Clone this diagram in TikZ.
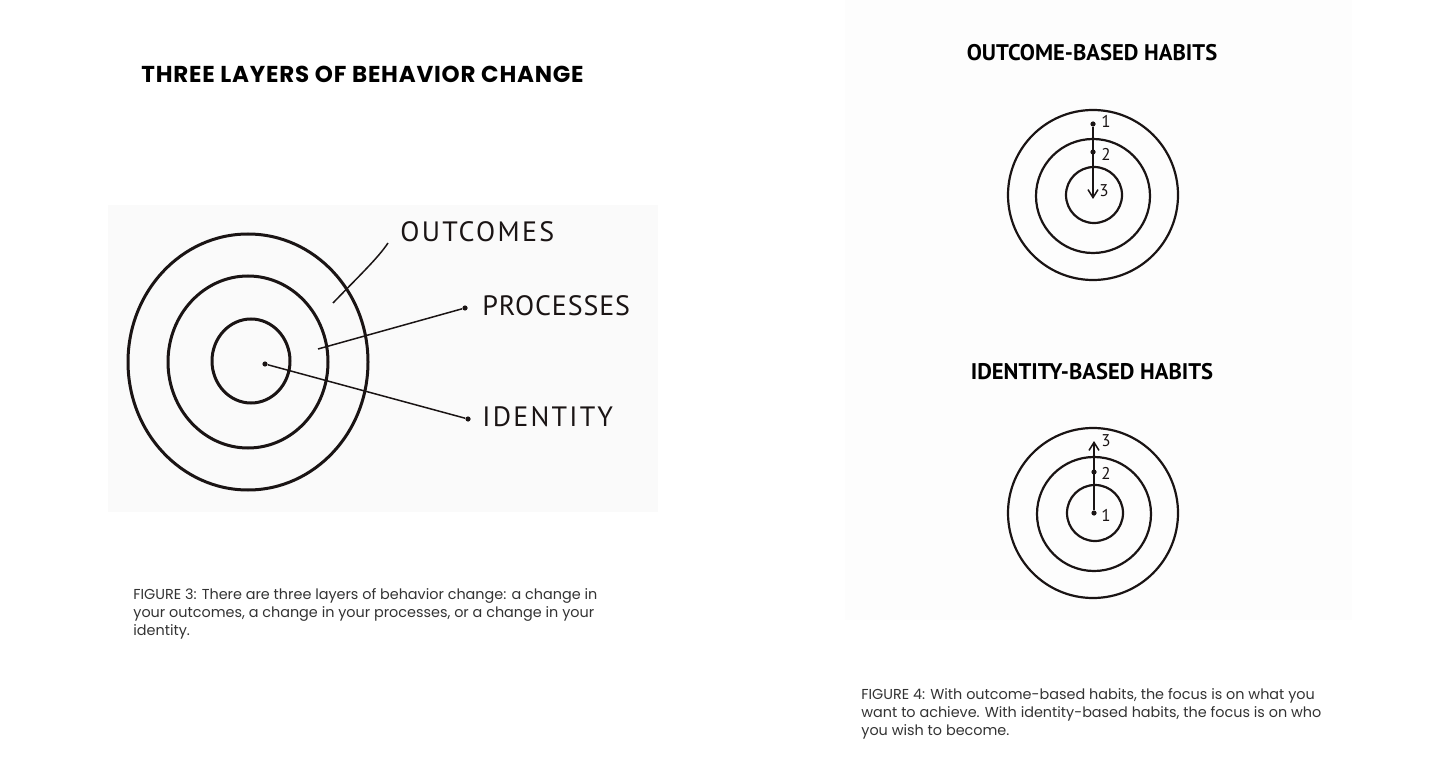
\documentclass[tikz,border=0pt]{standalone}
\usepackage{fontspec}
\setmainfont{Poppins}
\newfontfamily\titlefont{Poppins}[LetterSpace=3.4]
\newfontfamily\headfont{PT Sans}
\newfontfamily\handfont{PT Sans}[LetterSpace=8]
\newfontfamily\handfontnarrow{PT Sans}[LetterSpace=3]
\newfontfamily\numfont{PT Sans}
\usetikzlibrary{shapes.geometric,arrows.meta}
\definecolor{ink}{HTML}{1A1414}
\definecolor{captext}{HTML}{333333}
\tikzset{
  ring/.style={ellipse, draw=ink, inner sep=0pt},
  bigring/.style={ring, line width=1.5pt},
  smallring/.style={ring, line width=1.1pt},
  leader/.style={draw=ink, line width=0.75pt},
  dotmark/.style={circle, fill=ink, inner sep=0pt, minimum size=2.6pt},
  handlabel/.style={font=\handfont\fontsize{14}{14}\selectfont, text=ink, anchor=west, inner sep=0pt},
  handlabelnarrow/.style={font=\handfontnarrow\fontsize{14}{14}\selectfont, text=ink, anchor=west, inner sep=0pt},
  numlabel/.style={font=\numfont\fontsize{8.5}{8.5}\selectfont, text=ink, anchor=west, inner sep=0pt},
  heading/.style={font=\headfont\bfseries\fontsize{11.3}{13}\selectfont, inner sep=0pt},
  titletext/.style={font=\titlefont\bfseries\fontsize{11.5}{13}\selectfont, inner sep=0pt, anchor=base west},
  captiontext/.style={font=\fontsize{7.2}{8.9}\selectfont, text=captext, align=left, anchor=north west, inner sep=0pt},
  arrowline/.style={draw=ink, line width=0.75pt, -{Straight Barb[length=4pt,width=5pt]}},
}
\begin{document}
\begin{tikzpicture}[x=0.5pt,y=-0.5pt]
\useasboundingbox (0,0) rectangle (1456,775);
\fill[white] (0,0) rectangle (1456,775);
\fill[black!1.8] (108,205) rectangle (658,512);
\fill[black!0.8] (845,0) rectangle (1352,620);

% ---------- left figure ----------
\node[titletext] (title) at (141,83) {THREE LAYERS OF BEHAVIOR CHANGE};

\node[bigring, minimum width=120pt, minimum height=128pt] (outer) at (248,362) {};
\node[bigring, minimum width=80pt, minimum height=86pt] (middle) at (248,362) {};
\node[bigring, minimum width=39pt, minimum height=42pt] (inner) at (251,361) {};

\node[handlabel] (outcomes) at (400,232) {OUTCOMES};
\node[handlabelnarrow] (processes) at (482,306) {PROCESSES};
\node[handlabel] (identity) at (482,417) {IDENTITY};

\coordinate (o1) at (333,303);
\coordinate (o2) at (388,243);
\coordinate (p1) at (318,349);
\node[dotmark] (p2) at (465,308) {};
\node[dotmark] (i1) at (265,364) {};
\node[dotmark] (i2) at (468,419) {};

\draw[leader] (o1) .. controls (360,275) and (378,258) .. (o2);
\draw[leader] (p1) -- (p2);
\draw[leader] (i1) -- (i2);

\node[captiontext] (cap3) at (133,588) {FIGURE 3: There are three layers of behavior change: a change in\\
your outcomes, a change in your processes, or a change in your\\
identity.};

% ---------- right figures ----------
\node[heading] (head1) at (1092,53) {OUTCOME-BASED HABITS};
\node[heading] (head2) at (1092,372) {IDENTITY-BASED HABITS};

\node[smallring, minimum width=85pt, minimum height=85pt] (a3) at (1093,195) {};
\node[smallring, minimum width=57pt, minimum height=57pt] (a2) at (1093,196) {};
\node[smallring, minimum width=28pt, minimum height=28pt] (a1) at (1094,195) {};

\node[dotmark] (ad1) at (1093,124) {};
\node[dotmark] (ad2) at (1093,152) {};
\coordinate (ad3) at (1093,199);
\draw[arrowline] (ad1) -- (ad3);
\node[numlabel] (an1) at (1101,121) {1};
\node[numlabel] (an2) at (1101,154) {2};
\node[numlabel] (an3) at (1099,191) {3};

\node[smallring, minimum width=85pt, minimum height=85pt] (b3) at (1093,513) {};
\node[smallring, minimum width=57pt, minimum height=57pt] (b2) at (1094,514) {};
\node[smallring, minimum width=28pt, minimum height=28pt] (b1) at (1095,513) {};

\node[dotmark] (bd1) at (1094,513) {};
\node[dotmark] (bd2) at (1094,472) {};
\coordinate (bd3) at (1094,441);
\draw[arrowline] (bd1) -- (bd3);
\node[numlabel] (bn1) at (1101,515) {1};
\node[numlabel] (bn2) at (1101,473) {2};
\node[numlabel] (bn3) at (1101,441) {3};

\node[captiontext] (cap4) at (861,688) {FIGURE 4: With outcome-based habits, the focus is on what you\\
want to achieve. With identity-based habits, the focus is on who\\
you wish to become.};
\end{tikzpicture}
\end{document}
